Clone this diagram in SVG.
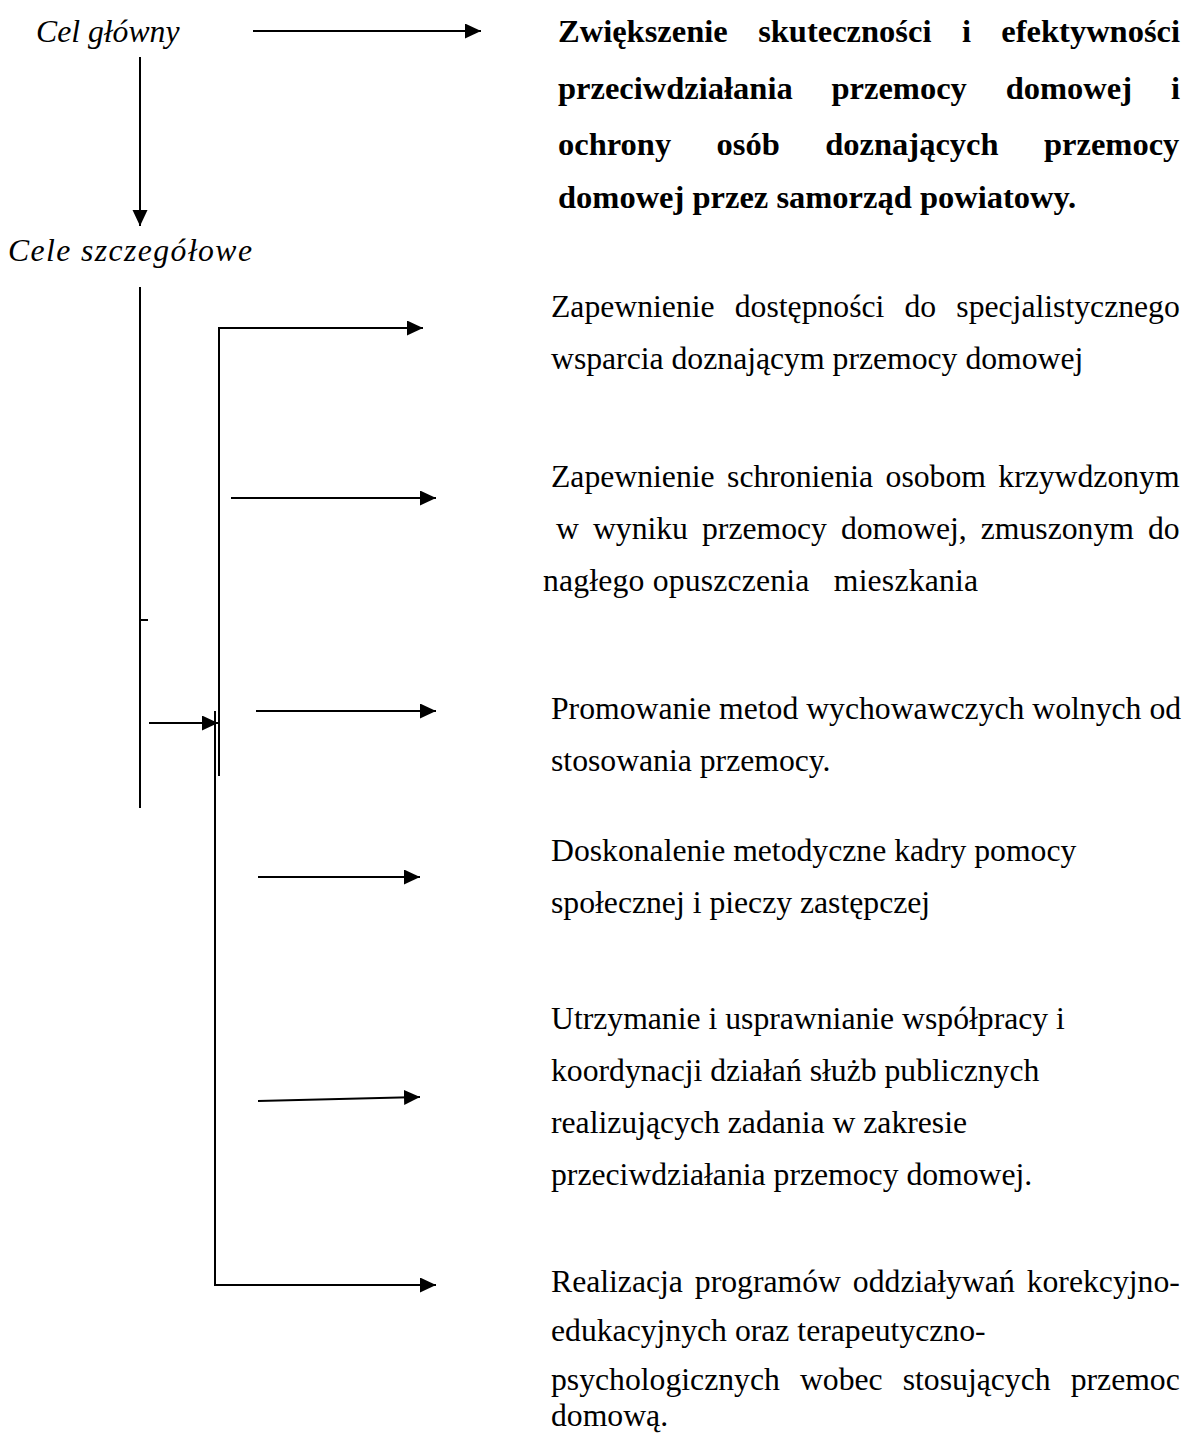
<svg xmlns="http://www.w3.org/2000/svg" width="1198" height="1433" viewBox="0 0 1198 1433">
<style>
text{font-family:"Liberation Serif","Times New Roman",serif;font-size:31.7px;fill:#000}
.it{font-style:italic}
.b{font-weight:bold;font-size:32.5px}
.ln{stroke:#000;stroke-width:2;fill:none}
</style>
<defs>
<marker id="ah" markerUnits="userSpaceOnUse" markerWidth="17" markerHeight="16" refX="16" refY="7.5" orient="auto">
<path d="M0,0 L16,7.5 L0,15 z" fill="#000"/>
</marker>
</defs>
<rect width="1198" height="1433" fill="#fff"/>
<g id="connectors">
<line class="ln" x1="253" y1="31" x2="481" y2="31" marker-end="url(#ah)"/>
<line class="ln" x1="140" y1="57" x2="140" y2="226" marker-end="url(#ah)"/>
<line class="ln" x1="140" y1="287" x2="140" y2="808"/>
<line class="ln" x1="140" y1="620" x2="148" y2="620"/>
<polyline class="ln" points="219,776 219,328 423,328" marker-end="url(#ah)"/>
<line class="ln" x1="231" y1="498" x2="436" y2="498" marker-end="url(#ah)"/>
<line class="ln" x1="149" y1="723" x2="218" y2="723" marker-end="url(#ah)"/>
<polyline class="ln" points="215,711 215,1285 436,1285" marker-end="url(#ah)"/>
<line class="ln" x1="256" y1="711" x2="436" y2="711" marker-end="url(#ah)"/>
<line class="ln" x1="258" y1="877" x2="420" y2="877" marker-end="url(#ah)"/>
<line class="ln" x1="258" y1="1101" x2="420" y2="1097" marker-end="url(#ah)"/>
</g>
<g id="cel-glowny"><text class="it" x="36" y="42">Cel główny</text></g>
<g id="cele-szczegolowe"><text class="it" x="8" y="261" textLength="244" lengthAdjust="spacing">Cele szczegółowe</text></g>
<g id="cel-glowny-tresc">
<text class="b" x="558" y="42" word-spacing="22.3">Zwiększenie skuteczności i efektywności</text>
<text class="b" x="558" y="99" word-spacing="30.7">przeciwdziałania przemocy domowej i</text>
<text class="b" x="558" y="155" word-spacing="37.3">ochrony osób doznających przemocy</text>
<text class="b" x="558" y="208">domowej przez samorząd powiatowy.</text>
</g>
<g id="cel-1">
<text x="551" y="317" word-spacing="12.2">Zapewnienie dostępności do specjalistycznego</text>
<text x="551" y="369">wsparcia doznającym przemocy domowej</text>
</g>
<g id="cel-2">
<text x="551" y="487" word-spacing="4.5">Zapewnienie schronienia osobom krzywdzonym</text>
<text x="556" y="539" word-spacing="6.1">w wyniku przemocy domowej, zmuszonym do</text>
<text x="543" y="591" style="white-space:pre" textLength="435" lengthAdjust="spacing">nagłego opuszczenia   mieszkania</text>
</g>
<g id="cel-3">
<text x="551" y="719">Promowanie metod wychowawczych wolnych od</text>
<text x="551" y="771">stosowania przemocy.</text>
</g>
<g id="cel-4">
<text x="551" y="861">Doskonalenie metodyczne kadry pomocy</text>
<text x="551" y="913">społecznej i pieczy zastępczej</text>
</g>
<g id="cel-5">
<text x="551" y="1029">Utrzymanie i usprawnianie współpracy i</text>
<text x="551" y="1081">koordynacji działań służb publicznych</text>
<text x="551" y="1133">realizujących zadania w zakresie</text>
<text x="551" y="1185">przeciwdziałania przemocy domowej.</text>
</g>
<g id="cel-6">
<text x="551" y="1292" word-spacing="4">Realizacja programów oddziaływań korekcyjno-</text>
<text x="551" y="1341">edukacyjnych oraz terapeutyczno-</text>
<text x="551" y="1390" word-spacing="12.2">psychologicznych wobec stosujących przemoc</text>
<text x="551" y="1426">domową.</text>
</g>
</svg>
